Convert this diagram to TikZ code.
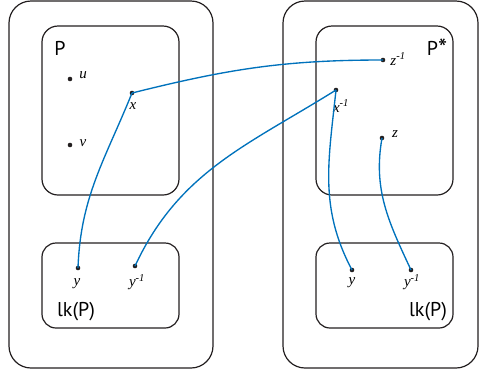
\documentclass[tikz,border=0pt]{standalone}
\usepackage{fontspec}
\setmainfont{Liberation Serif}
\newfontfamily\labfont{PT Sans}
\definecolor{curveblue}{RGB}{0,114,188}
\definecolor{boxline}{RGB}{35,31,32}
\begin{document}
\begin{tikzpicture}[x=1pt,y=-1pt,
  box/.style={draw=boxline,line width=1.2pt},
  dot/.style={circle,fill=boxline,inner sep=0pt,minimum size=4.6pt},
  lbl/.style={font=\fontsize{15}{15}\selectfont\itshape,inner sep=0pt},
  big/.style={font=\labfont\fontsize{20}{20}\selectfont,inner sep=0pt},
  link/.style={draw=curveblue,line width=1.35pt}]
\useasboundingbox (0,0) rectangle (479,373);
% outer boxes
\draw[box,rounded corners=22pt] (9,1) rectangle (213,368);
\draw[box,rounded corners=22pt] (283,1) rectangle (478,368);
% inner boxes
\draw[box,rounded corners=16pt] (42,26) rectangle (179,195);
\draw[box,rounded corners=16pt] (316,26) rectangle (453,195);
\draw[box,rounded corners=14pt] (42,243) rectangle (179,328);
\draw[box,rounded corners=14pt] (316,243) rectangle (453,328);
% big labels
\node[big] (lP) at (60,48) {P};
\node[big] (lPs) at (437,48) {P{\fontsize{26}{26}\selectfont\raisebox{-2pt}{*}}};
\node[big] (lk1) at (76,312) {lk(P)};
\node[big] (lk2) at (428,312) {lk(P)};
% points
\node[dot] (u) at (70,79) {};
\node[dot] (v) at (70,145) {};
\node[dot] (x) at (132,93) {};
\node[dot] (zi) at (383,60) {};
\node[dot] (xi) at (336,90) {};
\node[dot] (z) at (382,138) {};
\node[dot] (y1) at (78,268) {};
\node[dot] (yi1) at (135,266) {};
\node[dot] (y2) at (352,270) {};
\node[dot] (yi2) at (411,270) {};
% point labels
\node[lbl] (tu) at (83,75) {u};
\node[lbl] (tv) at (83,143) {v};
\node[lbl] (tx) at (133,106) {x};
\node[lbl] (tzi) at (398,59) {z\textsuperscript{-1}};
\node[lbl] (txi) at (341,106) {x\textsuperscript{-1}};
\node[lbl] (tz) at (395,134) {z};
\node[lbl] (ty1) at (77,284) {y};
\node[lbl] (tyi1) at (137,282) {y\textsuperscript{-1}};
\node[lbl] (ty2) at (352,283) {y};
\node[lbl] (tyi2) at (412,282) {y\textsuperscript{-1}};
% connectors
\draw[link] (x.center) to[out=14,in=180] (zi.center);
\draw[link] (x.center) to[out=-112,in=88] (y1.center);
\draw[link] (yi1.center) to[out=65,in=-148] (xi.center);
\draw[link] (xi.center) to[out=-96,in=118] (y2.center);
\draw[link] (z.center) to[out=-100,in=115] (yi2.center);
\end{tikzpicture}
\end{document}
